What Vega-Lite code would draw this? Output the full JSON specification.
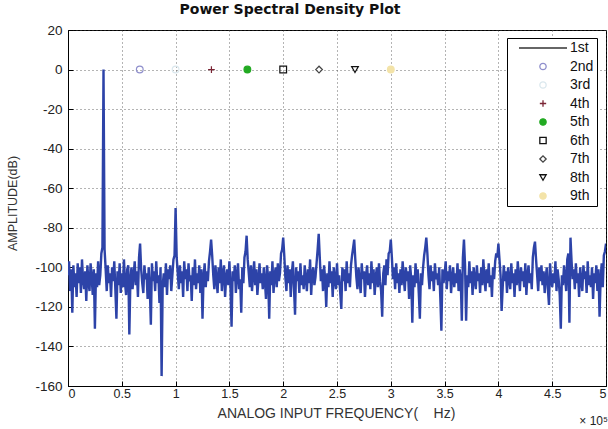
{
  "$schema": "https://vega.github.io/schema/vega-lite/v6.json",
  "width": 538,
  "height": 356,
  "autosize": {"type": "none"},
  "padding": {"left": 68, "top": 30, "right": 2, "bottom": 43},
  "background": "white",
  "title": {"text": "Power Spectral Density Plot", "font": "DejaVu Sans", "fontSize": 14, "fontWeight": "bold", "color": "#111", "offset": 6, "dx": -47},
  "config": {
    "view": {"stroke": "black", "strokeWidth": 1},
    "axis": {"labelFont": "Liberation Sans", "labelFontSize": 13.5, "labelColor": "#222", "labelOverlap": false, "titleFont": "Liberation Sans", "titleFontSize": 12.5, "titleFontWeight": "normal", "titleColor": "#333", "domainColor": "black", "tickColor": "black", "gridColor": "#444", "gridDash": [1, 3], "gridOpacity": 0.8, "gridWidth": 1},
    "legend": {"orient": "none", "legendX": 439, "legendY": 8, "strokeColor": "black", "fillColor": "white", "padding": 3, "rowPadding": 4.5, "labelFont": "Liberation Sans", "labelFontSize": 14, "labelColor": "#111", "symbolSize": 40, "symbolOffset": 26, "labelOffset": 20, "symbolStrokeWidth": 1.3, "labelExpr": "datum.label + '\u00a0\u00a0\u00a0'"}
  },
  "datasets": {
    "psd": [
{"f":0.00,"a":-104},{"f":0.01,"a":-97},{"f":0.02,"a":-112},{"f":0.03,"a":-101},{"f":0.04,"a":-123},{"f":0.05,"a":-99},{"f":0.06,"a":-110},{"f":0.07,"a":-103},{"f":0.08,"a":-115},{"f":0.09,"a":-98},
{"f":0.10,"a":-108},{"f":0.11,"a":-100},{"f":0.12,"a":-113},{"f":0.13,"a":-96},{"f":0.14,"a":-106},{"f":0.15,"a":-111},{"f":0.16,"a":-102},{"f":0.17,"a":-117},{"f":0.18,"a":-99},{"f":0.19,"a":-107},
{"f":0.20,"a":-112},{"f":0.21,"a":-98},{"f":0.22,"a":-105},{"f":0.23,"a":-114},{"f":0.24,"a":-101},{"f":0.25,"a":-131},{"f":0.26,"a":-103},{"f":0.27,"a":-110},{"f":0.28,"a":-97},{"f":0.29,"a":-109},
{"f":0.30,"a":-104},{"f":0.31,"a":-93},{"f":0.32,"a":-90},{"f":0.33,"a":0},{"f":0.34,"a":-91},{"f":0.35,"a":-101},{"f":0.36,"a":-112},{"f":0.37,"a":-99},{"f":0.38,"a":-108},{"f":0.39,"a":-103},
{"f":0.40,"a":-115},{"f":0.41,"a":-100},{"f":0.42,"a":-107},{"f":0.43,"a":-97},{"f":0.44,"a":-111},{"f":0.45,"a":-126},{"f":0.46,"a":-102},{"f":0.47,"a":-109},{"f":0.48,"a":-98},{"f":0.49,"a":-113},
{"f":0.50,"a":-103},{"f":0.51,"a":-110},{"f":0.52,"a":-96},{"f":0.53,"a":-108},{"f":0.54,"a":-114},{"f":0.55,"a":-101},{"f":0.56,"a":-99},{"f":0.57,"a":-134},{"f":0.58,"a":-106},{"f":0.59,"a":-100},
{"f":0.60,"a":-111},{"f":0.61,"a":-104},{"f":0.62,"a":-97},{"f":0.63,"a":-109},{"f":0.64,"a":-102},{"f":0.65,"a":-115},{"f":0.66,"a":-95},{"f":0.67,"a":-88},{"f":0.68,"a":-101},{"f":0.69,"a":-108},
{"f":0.70,"a":-113},{"f":0.71,"a":-99},{"f":0.72,"a":-106},{"f":0.73,"a":-103},{"f":0.74,"a":-116},{"f":0.75,"a":-100},{"f":0.76,"a":-110},{"f":0.77,"a":-129},{"f":0.78,"a":-98},{"f":0.79,"a":-107},
{"f":0.80,"a":-102},{"f":0.81,"a":-112},{"f":0.82,"a":-97},{"f":0.83,"a":-108},{"f":0.84,"a":-104},{"f":0.85,"a":-118},{"f":0.86,"a":-100},{"f":0.87,"a":-155},{"f":0.88,"a":-109},{"f":0.89,"a":-103},
{"f":0.90,"a":-110},{"f":0.91,"a":-98},{"f":0.92,"a":-114},{"f":0.93,"a":-101},{"f":0.94,"a":-106},{"f":0.95,"a":-99},{"f":0.96,"a":-112},{"f":0.97,"a":-104},{"f":0.98,"a":-96},{"f":0.99,"a":-94},
{"f":1.00,"a":-70},{"f":1.01,"a":-95},{"f":1.02,"a":-103},{"f":1.03,"a":-111},{"f":1.04,"a":-99},{"f":1.05,"a":-108},{"f":1.06,"a":-102},{"f":1.07,"a":-115},{"f":1.08,"a":-97},{"f":1.09,"a":-106},
{"f":1.10,"a":-101},{"f":1.11,"a":-112},{"f":1.12,"a":-98},{"f":1.13,"a":-107},{"f":1.14,"a":-104},{"f":1.15,"a":-117},{"f":1.16,"a":-100},{"f":1.17,"a":-109},{"f":1.18,"a":-96},{"f":1.19,"a":-111},
{"f":1.20,"a":-103},{"f":1.21,"a":-108},{"f":1.22,"a":-99},{"f":1.23,"a":-113},{"f":1.24,"a":-101},{"f":1.25,"a":-126},{"f":1.26,"a":-105},{"f":1.27,"a":-98},{"f":1.28,"a":-110},{"f":1.29,"a":-102},
{"f":1.30,"a":-107},{"f":1.31,"a":-97},{"f":1.32,"a":-92},{"f":1.33,"a":-86},{"f":1.34,"a":-94},{"f":1.35,"a":-104},{"f":1.36,"a":-111},{"f":1.37,"a":-99},{"f":1.38,"a":-106},{"f":1.39,"a":-113},
{"f":1.40,"a":-100},{"f":1.41,"a":-108},{"f":1.42,"a":-96},{"f":1.43,"a":-112},{"f":1.44,"a":-103},{"f":1.45,"a":-99},{"f":1.46,"a":-115},{"f":1.47,"a":-105},{"f":1.48,"a":-101},{"f":1.49,"a":-109},
{"f":1.50,"a":-97},{"f":1.51,"a":-110},{"f":1.52,"a":-130},{"f":1.53,"a":-102},{"f":1.54,"a":-107},{"f":1.55,"a":-99},{"f":1.56,"a":-113},{"f":1.57,"a":-104},{"f":1.58,"a":-98},{"f":1.59,"a":-111},
{"f":1.60,"a":-106},{"f":1.61,"a":-123},{"f":1.62,"a":-100},{"f":1.63,"a":-108},{"f":1.64,"a":-95},{"f":1.65,"a":-92},{"f":1.66,"a":-84},{"f":1.67,"a":-96},{"f":1.68,"a":-103},{"f":1.69,"a":-110},
{"f":1.70,"a":-99},{"f":1.71,"a":-112},{"f":1.72,"a":-104},{"f":1.73,"a":-97},{"f":1.74,"a":-109},{"f":1.75,"a":-101},{"f":1.76,"a":-114},{"f":1.77,"a":-106},{"f":1.78,"a":-98},{"f":1.79,"a":-108},
{"f":1.80,"a":-103},{"f":1.81,"a":-111},{"f":1.82,"a":-100},{"f":1.83,"a":-107},{"f":1.84,"a":-116},{"f":1.85,"a":-99},{"f":1.86,"a":-105},{"f":1.87,"a":-126},{"f":1.88,"a":-102},{"f":1.89,"a":-109},
{"f":1.90,"a":-97},{"f":1.91,"a":-113},{"f":1.92,"a":-104},{"f":1.93,"a":-100},{"f":1.94,"a":-110},{"f":1.95,"a":-98},{"f":1.96,"a":-107},{"f":1.97,"a":-103},{"f":1.98,"a":-93},{"f":1.99,"a":-91},
{"f":2.00,"a":-85},{"f":2.01,"a":-94},{"f":2.02,"a":-105},{"f":2.03,"a":-112},{"f":2.04,"a":-99},{"f":2.05,"a":-108},{"f":2.06,"a":-101},{"f":2.07,"a":-115},{"f":2.08,"a":-103},{"f":2.09,"a":-97},
{"f":2.10,"a":-110},{"f":2.11,"a":-124},{"f":2.12,"a":-100},{"f":2.13,"a":-107},{"f":2.14,"a":-102},{"f":2.15,"a":-113},{"f":2.16,"a":-98},{"f":2.17,"a":-109},{"f":2.18,"a":-104},{"f":2.19,"a":-111},
{"f":2.20,"a":-99},{"f":2.21,"a":-106},{"f":2.22,"a":-112},{"f":2.23,"a":-101},{"f":2.24,"a":-108},{"f":2.25,"a":-96},{"f":2.26,"a":-114},{"f":2.27,"a":-103},{"f":2.28,"a":-100},{"f":2.29,"a":-109},
{"f":2.30,"a":-105},{"f":2.31,"a":-98},{"f":2.32,"a":-91},{"f":2.33,"a":-83},{"f":2.34,"a":-95},{"f":2.35,"a":-107},{"f":2.36,"a":-101},{"f":2.37,"a":-112},{"f":2.38,"a":-99},{"f":2.39,"a":-106},
{"f":2.40,"a":-120},{"f":2.41,"a":-103},{"f":2.42,"a":-110},{"f":2.43,"a":-97},{"f":2.44,"a":-108},{"f":2.45,"a":-102},{"f":2.46,"a":-115},{"f":2.47,"a":-100},{"f":2.48,"a":-106},{"f":2.49,"a":-111},
{"f":2.50,"a":-98},{"f":2.51,"a":-109},{"f":2.52,"a":-104},{"f":2.53,"a":-113},{"f":2.54,"a":-121},{"f":2.55,"a":-100},{"f":2.56,"a":-107},{"f":2.57,"a":-101},{"f":2.58,"a":-112},{"f":2.59,"a":-97},
{"f":2.60,"a":-108},{"f":2.61,"a":-103},{"f":2.62,"a":-110},{"f":2.63,"a":-99},{"f":2.64,"a":-94},{"f":2.65,"a":-90},{"f":2.66,"a":-86},{"f":2.67,"a":-96},{"f":2.68,"a":-105},{"f":2.69,"a":-111},
{"f":2.70,"a":-100},{"f":2.71,"a":-107},{"f":2.72,"a":-113},{"f":2.73,"a":-98},{"f":2.74,"a":-106},{"f":2.75,"a":-102},{"f":2.76,"a":-115},{"f":2.77,"a":-104},{"f":2.78,"a":-99},{"f":2.79,"a":-109},
{"f":2.80,"a":-103},{"f":2.81,"a":-111},{"f":2.82,"a":-97},{"f":2.83,"a":-108},{"f":2.84,"a":-101},{"f":2.85,"a":-114},{"f":2.86,"a":-105},{"f":2.87,"a":-100},{"f":2.88,"a":-110},{"f":2.89,"a":-98},
{"f":2.90,"a":-107},{"f":2.91,"a":-112},{"f":2.92,"a":-125},{"f":2.93,"a":-103},{"f":2.94,"a":-99},{"f":2.95,"a":-109},{"f":2.96,"a":-96},{"f":2.97,"a":-104},{"f":2.98,"a":-93},{"f":2.99,"a":-92},
{"f":3.00,"a":-86},{"f":3.01,"a":-95},{"f":3.02,"a":-106},{"f":3.03,"a":-100},{"f":3.04,"a":-111},{"f":3.05,"a":-98},{"f":3.06,"a":-108},{"f":3.07,"a":-103},{"f":3.08,"a":-113},{"f":3.09,"a":-101},
{"f":3.10,"a":-109},{"f":3.11,"a":-97},{"f":3.12,"a":-105},{"f":3.13,"a":-112},{"f":3.14,"a":-100},{"f":3.15,"a":-107},{"f":3.16,"a":-102},{"f":3.17,"a":-116},{"f":3.18,"a":-99},{"f":3.19,"a":-106},
{"f":3.20,"a":-128},{"f":3.21,"a":-104},{"f":3.22,"a":-110},{"f":3.23,"a":-98},{"f":3.24,"a":-108},{"f":3.25,"a":-101},{"f":3.26,"a":-113},{"f":3.27,"a":-126},{"f":3.28,"a":-103},{"f":3.29,"a":-109},
{"f":3.30,"a":-100},{"f":3.31,"a":-94},{"f":3.32,"a":-90},{"f":3.33,"a":-85},{"f":3.34,"a":-93},{"f":3.35,"a":-104},{"f":3.36,"a":-111},{"f":3.37,"a":-99},{"f":3.38,"a":-107},{"f":3.39,"a":-102},
{"f":3.40,"a":-112},{"f":3.41,"a":-98},{"f":3.42,"a":-106},{"f":3.43,"a":-103},{"f":3.44,"a":-109},{"f":3.45,"a":-100},{"f":3.46,"a":-115},{"f":3.47,"a":-132},{"f":3.48,"a":-101},{"f":3.49,"a":-108},
{"f":3.50,"a":-104},{"f":3.51,"a":-97},{"f":3.52,"a":-111},{"f":3.53,"a":-102},{"f":3.54,"a":-107},{"f":3.55,"a":-99},{"f":3.56,"a":-113},{"f":3.57,"a":-105},{"f":3.58,"a":-100},{"f":3.59,"a":-110},
{"f":3.60,"a":-103},{"f":3.61,"a":-108},{"f":3.62,"a":-98},{"f":3.63,"a":-112},{"f":3.64,"a":-101},{"f":3.65,"a":-106},{"f":3.66,"a":-127},{"f":3.67,"a":-95},{"f":3.68,"a":-86},{"f":3.69,"a":-99},
{"f":3.70,"a":-127},{"f":3.71,"a":-104},{"f":3.72,"a":-110},{"f":3.73,"a":-97},{"f":3.74,"a":-108},{"f":3.75,"a":-102},{"f":3.76,"a":-114},{"f":3.77,"a":-100},{"f":3.78,"a":-106},{"f":3.79,"a":-111},
{"f":3.80,"a":-99},{"f":3.81,"a":-107},{"f":3.82,"a":-103},{"f":3.83,"a":-113},{"f":3.84,"a":-100},{"f":3.85,"a":-109},{"f":3.86,"a":-96},{"f":3.87,"a":-105},{"f":3.88,"a":-112},{"f":3.89,"a":-101},
{"f":3.90,"a":-108},{"f":3.91,"a":-98},{"f":3.92,"a":-110},{"f":3.93,"a":-104},{"f":3.94,"a":-115},{"f":3.95,"a":-100},{"f":3.96,"a":-106},{"f":3.97,"a":-97},{"f":3.98,"a":-93},{"f":3.99,"a":-95},
{"f":4.00,"a":-88},{"f":4.01,"a":-96},{"f":4.02,"a":-104},{"f":4.03,"a":-122},{"f":4.04,"a":-110},{"f":4.05,"a":-99},{"f":4.06,"a":-107},{"f":4.07,"a":-102},{"f":4.08,"a":-113},{"f":4.09,"a":-100},
{"f":4.10,"a":-106},{"f":4.11,"a":-111},{"f":4.12,"a":-98},{"f":4.13,"a":-108},{"f":4.14,"a":-103},{"f":4.15,"a":-115},{"f":4.16,"a":-101},{"f":4.17,"a":-109},{"f":4.18,"a":-97},{"f":4.19,"a":-105},
{"f":4.20,"a":-112},{"f":4.21,"a":-100},{"f":4.22,"a":-107},{"f":4.23,"a":-102},{"f":4.24,"a":-110},{"f":4.25,"a":-98},{"f":4.26,"a":-114},{"f":4.27,"a":-104},{"f":4.28,"a":-99},{"f":4.29,"a":-108},
{"f":4.30,"a":-103},{"f":4.31,"a":-111},{"f":4.32,"a":-95},{"f":4.33,"a":-90},{"f":4.34,"a":-87},{"f":4.35,"a":-96},{"f":4.36,"a":-104},{"f":4.37,"a":-112},{"f":4.38,"a":-100},{"f":4.39,"a":-107},
{"f":4.40,"a":-99},{"f":4.41,"a":-109},{"f":4.42,"a":-102},{"f":4.43,"a":-113},{"f":4.44,"a":-105},{"f":4.45,"a":-100},{"f":4.46,"a":-111},{"f":4.47,"a":-119},{"f":4.48,"a":-98},{"f":4.49,"a":-106},
{"f":4.50,"a":-110},{"f":4.51,"a":-103},{"f":4.52,"a":-108},{"f":4.53,"a":-97},{"f":4.54,"a":-112},{"f":4.55,"a":-101},{"f":4.56,"a":-106},{"f":4.57,"a":-114},{"f":4.58,"a":-131},{"f":4.59,"a":-104},
{"f":4.60,"a":-109},{"f":4.61,"a":-99},{"f":4.62,"a":-105},{"f":4.63,"a":-112},{"f":4.64,"a":-96},{"f":4.65,"a":-93},{"f":4.66,"a":-128},{"f":4.67,"a":-85},{"f":4.68,"a":-97},{"f":4.69,"a":-106},
{"f":4.70,"a":-101},{"f":4.71,"a":-111},{"f":4.72,"a":-98},{"f":4.73,"a":-108},{"f":4.74,"a":-103},{"f":4.75,"a":-115},{"f":4.76,"a":-100},{"f":4.77,"a":-107},{"f":4.78,"a":-112},{"f":4.79,"a":-99},
{"f":4.80,"a":-106},{"f":4.81,"a":-102},{"f":4.82,"a":-113},{"f":4.83,"a":-97},{"f":4.84,"a":-109},{"f":4.85,"a":-104},{"f":4.86,"a":-110},{"f":4.87,"a":-100},{"f":4.88,"a":-116},{"f":4.89,"a":-103},
{"f":4.90,"a":-108},{"f":4.91,"a":-99},{"f":4.92,"a":-112},{"f":4.93,"a":-101},{"f":4.94,"a":-125},{"f":4.95,"a":-106},{"f":4.96,"a":-98},{"f":4.97,"a":-110},{"f":4.98,"a":-94},{"f":4.99,"a":-92},
{"f":5.00,"a":-88}
    ],
    "harm": [
      {"f": 0.667, "a": 0, "h": "2nd"},
      {"f": 1.0, "a": 0, "h": "3rd"},
      {"f": 1.333, "a": 0, "h": "4th"},
      {"f": 1.667, "a": 0, "h": "5th"},
      {"f": 2.0, "a": 0, "h": "6th"},
      {"f": 2.333, "a": 0, "h": "7th"},
      {"f": 2.667, "a": 0, "h": "8th"},
      {"f": 3.0, "a": 0, "h": "9th"}
    ],
    "note": [{"f": 5, "a": -160, "t": "× 10⁵"}]
  },
  "encoding": {
    "x": {"field": "f", "type": "quantitative", "scale": {"domain": [0, 5], "nice": false},
      "axis": {"values": [0, 0.5, 1, 1.5, 2, 2.5, 3, 3.5, 4, 4.5, 5], "labelExpr": "'' + datum.value", "grid": true, "tickSize": -5, "labelPadding": 6, "labelFontSize": 12.5, "labelOverlap": false, "title": "ANALOG INPUT FREQUENCY(\u00a0\u00a0\u00a0\u00a0Hz)", "titleFontSize": 14, "titleX": 268, "titleY": 27, "titleBaseline": "middle", "titleAnchor": null, "titleAlign": "center"}},
    "y": {"field": "a", "type": "quantitative", "scale": {"domain": [-160, 20], "nice": false},
      "axis": {"values": [-160, -140, -120, -100, -80, -60, -40, -20, 0, 20], "tickCount": 10, "labelExpr": "'' + datum.value", "grid": true, "tickSize": -5, "labelPadding": 11, "labelOverlap": false, "labelBound": false, "title": "AMPLITUDE(dB)", "titleX": -56, "titleY": 173, "titleBaseline": "middle", "titleAlign": "center", "titleAnchor": null}}
  },
  "layer": [
    {
      "data": {"name": "psd"},
      "mark": {"type": "line", "color": "#2d43a8", "strokeWidth": 2.4, "clip": true}
    },
    {
      "data": {"name": "harm"},
      "mark": {"type": "point", "size": 45, "strokeWidth": 1.2, "opacity": 1},
      "encoding": {
        "stroke": {"field": "h", "type": "nominal", "title": null,
          "scale": {"domain": ["1st", "2nd", "3rd", "4th", "5th", "6th", "7th", "8th", "9th"],
                    "range": ["#333333", "#8f8fcc", "#dbe8ee", "#7a2434", "#22aa22", "#111111", "#444444", "#111111", "#f3e3a8"]}},
        "fill": {"field": "h", "type": "nominal", "title": null,
          "scale": {"domain": ["1st", "2nd", "3rd", "4th", "5th", "6th", "7th", "8th", "9th"],
                    "range": ["transparent", "transparent", "transparent", "transparent", "#22aa22", "transparent", "transparent", "transparent", "#f3e3a8"]}},
        "shape": {"field": "h", "type": "nominal", "title": null,
          "scale": {"domain": ["1st", "2nd", "3rd", "4th", "5th", "6th", "7th", "8th", "9th"],
                    "range": ["M-7.6,0L7.6,0", "circle", "circle", "M-1,0L1,0M0,-1L0,1", "circle", "square", "diamond", "triangle-down", "circle"]}}
      }
    },
    {
      "data": {"name": "note"},
      "mark": {"type": "text", "align": "right", "baseline": "middle", "dy": 35, "dx": 2, "font": "Liberation Sans", "fontSize": 12, "color": "#222"},
      "encoding": {
        "text": {"field": "t"}
      }
    }
  ]
}
